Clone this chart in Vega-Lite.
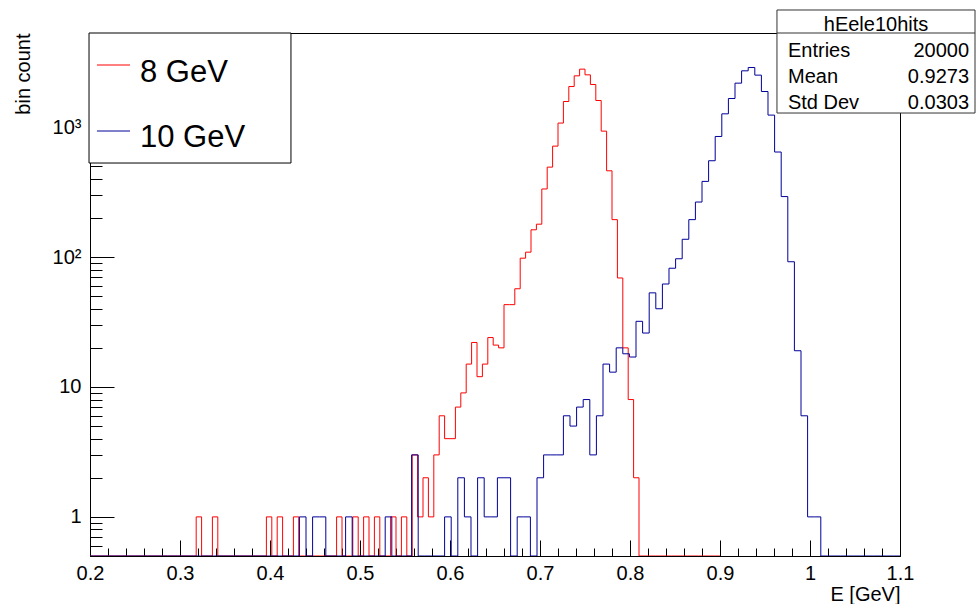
{
  "$schema": "https://vega.github.io/schema/vega-lite/v6.json",
  "width": 810,
  "height": 523,
  "autosize": "none",
  "padding": {"left": 90, "top": 33, "right": 77, "bottom": 48},
  "background": "white",
  "config": {
    "font": "Liberation Sans",
    "view": {"stroke": "black", "strokeWidth": 1},
    "axis": {
      "domainColor": "black", "tickColor": "black", "labelColor": "black", "titleColor": "black",
      "grid": false, "labelFont": "Liberation Sans", "titleFont": "Liberation Sans",
      "labelFontSize": 20, "titleFontSize": 20, "titleFontWeight": "normal", "tickWidth": 1, "domainWidth": 1
    }
  },
  "layer": [
    {
      "data": {"values": [
        {"s":"8 GeV","e":0.198,"n":0},{"s":"8 GeV","e":0.204,"n":0},{"s":"8 GeV","e":0.21,"n":0},{"s":"8 GeV","e":0.216,"n":0},{"s":"8 GeV","e":0.222,"n":0},{"s":"8 GeV","e":0.228,"n":0},{"s":"8 GeV","e":0.234,"n":0},{"s":"8 GeV","e":0.24,"n":0},{"s":"8 GeV","e":0.246,"n":0},{"s":"8 GeV","e":0.252,"n":0},{"s":"8 GeV","e":0.258,"n":0},{"s":"8 GeV","e":0.264,"n":0},{"s":"8 GeV","e":0.27,"n":0},{"s":"8 GeV","e":0.276,"n":0},{"s":"8 GeV","e":0.282,"n":0},{"s":"8 GeV","e":0.288,"n":0},{"s":"8 GeV","e":0.294,"n":0},{"s":"8 GeV","e":0.3,"n":0},{"s":"8 GeV","e":0.306,"n":0},{"s":"8 GeV","e":0.312,"n":0},
        {"s":"8 GeV","e":0.318,"n":1},{"s":"8 GeV","e":0.324,"n":0},{"s":"8 GeV","e":0.33,"n":0},{"s":"8 GeV","e":0.336,"n":1},{"s":"8 GeV","e":0.342,"n":0},{"s":"8 GeV","e":0.348,"n":0},{"s":"8 GeV","e":0.354,"n":0},{"s":"8 GeV","e":0.36,"n":0},{"s":"8 GeV","e":0.366,"n":0},{"s":"8 GeV","e":0.372,"n":0},{"s":"8 GeV","e":0.378,"n":0},{"s":"8 GeV","e":0.384,"n":0},{"s":"8 GeV","e":0.39,"n":0},{"s":"8 GeV","e":0.396,"n":1},{"s":"8 GeV","e":0.402,"n":0},{"s":"8 GeV","e":0.408,"n":1},{"s":"8 GeV","e":0.414,"n":0},{"s":"8 GeV","e":0.42,"n":0},{"s":"8 GeV","e":0.426,"n":1},{"s":"8 GeV","e":0.432,"n":0},
        {"s":"8 GeV","e":0.438,"n":0},{"s":"8 GeV","e":0.444,"n":0},{"s":"8 GeV","e":0.45,"n":0},{"s":"8 GeV","e":0.456,"n":0},{"s":"8 GeV","e":0.462,"n":0},{"s":"8 GeV","e":0.468,"n":0},{"s":"8 GeV","e":0.474,"n":1},{"s":"8 GeV","e":0.48,"n":0},{"s":"8 GeV","e":0.486,"n":0},{"s":"8 GeV","e":0.492,"n":1},{"s":"8 GeV","e":0.498,"n":0},{"s":"8 GeV","e":0.504,"n":1},{"s":"8 GeV","e":0.51,"n":0},{"s":"8 GeV","e":0.516,"n":1},{"s":"8 GeV","e":0.522,"n":0},{"s":"8 GeV","e":0.528,"n":0},{"s":"8 GeV","e":0.534,"n":1},{"s":"8 GeV","e":0.54,"n":0},{"s":"8 GeV","e":0.546,"n":1},{"s":"8 GeV","e":0.552,"n":0},
        {"s":"8 GeV","e":0.558,"n":3},{"s":"8 GeV","e":0.564,"n":1},{"s":"8 GeV","e":0.57,"n":2},{"s":"8 GeV","e":0.576,"n":1},{"s":"8 GeV","e":0.582,"n":3},{"s":"8 GeV","e":0.588,"n":6},{"s":"8 GeV","e":0.594,"n":4},{"s":"8 GeV","e":0.6,"n":4},{"s":"8 GeV","e":0.606,"n":7},{"s":"8 GeV","e":0.612,"n":9},{"s":"8 GeV","e":0.618,"n":15},{"s":"8 GeV","e":0.624,"n":22},{"s":"8 GeV","e":0.63,"n":12},{"s":"8 GeV","e":0.636,"n":15},{"s":"8 GeV","e":0.642,"n":24},{"s":"8 GeV","e":0.648,"n":21},{"s":"8 GeV","e":0.654,"n":20},{"s":"8 GeV","e":0.66,"n":43},{"s":"8 GeV","e":0.666,"n":43},{"s":"8 GeV","e":0.672,"n":57},
        {"s":"8 GeV","e":0.678,"n":98},{"s":"8 GeV","e":0.684,"n":109},{"s":"8 GeV","e":0.69,"n":162},{"s":"8 GeV","e":0.696,"n":179},{"s":"8 GeV","e":0.702,"n":334},{"s":"8 GeV","e":0.708,"n":492},{"s":"8 GeV","e":0.714,"n":714},{"s":"8 GeV","e":0.72,"n":1074},{"s":"8 GeV","e":0.726,"n":1574},{"s":"8 GeV","e":0.732,"n":2052},{"s":"8 GeV","e":0.738,"n":2481},{"s":"8 GeV","e":0.744,"n":2793},{"s":"8 GeV","e":0.75,"n":2525},{"s":"8 GeV","e":0.756,"n":2128},{"s":"8 GeV","e":0.762,"n":1602},{"s":"8 GeV","e":0.768,"n":931},{"s":"8 GeV","e":0.774,"n":461},{"s":"8 GeV","e":0.78,"n":194},{"s":"8 GeV","e":0.786,"n":69},{"s":"8 GeV","e":0.792,"n":20},
        {"s":"8 GeV","e":0.798,"n":8},{"s":"8 GeV","e":0.804,"n":2},{"s":"8 GeV","e":0.81,"n":0},{"s":"8 GeV","e":0.816,"n":0},{"s":"8 GeV","e":0.822,"n":0},{"s":"8 GeV","e":0.828,"n":0},{"s":"8 GeV","e":0.834,"n":0},{"s":"8 GeV","e":0.84,"n":0},{"s":"8 GeV","e":0.846,"n":0},{"s":"8 GeV","e":0.852,"n":0},{"s":"8 GeV","e":0.858,"n":0},{"s":"8 GeV","e":0.864,"n":0},{"s":"8 GeV","e":0.87,"n":0},{"s":"8 GeV","e":0.876,"n":0},{"s":"8 GeV","e":0.882,"n":0},{"s":"8 GeV","e":0.888,"n":0},{"s":"8 GeV","e":0.894,"n":0},{"s":"8 GeV","e":0.9,"n":0},
        {"s":"10 GeV","e":0.198,"n":0},{"s":"10 GeV","e":0.20533,"n":0},{"s":"10 GeV","e":0.21267,"n":0},{"s":"10 GeV","e":0.22,"n":0},{"s":"10 GeV","e":0.22733,"n":0},{"s":"10 GeV","e":0.23467,"n":0},{"s":"10 GeV","e":0.242,"n":0},{"s":"10 GeV","e":0.24933,"n":0},{"s":"10 GeV","e":0.25667,"n":0},{"s":"10 GeV","e":0.264,"n":0},{"s":"10 GeV","e":0.27133,"n":0},{"s":"10 GeV","e":0.27867,"n":0},{"s":"10 GeV","e":0.286,"n":0},{"s":"10 GeV","e":0.29333,"n":0},{"s":"10 GeV","e":0.30067,"n":0},{"s":"10 GeV","e":0.308,"n":0},{"s":"10 GeV","e":0.31533,"n":0},{"s":"10 GeV","e":0.32267,"n":0},{"s":"10 GeV","e":0.33,"n":0},{"s":"10 GeV","e":0.33733,"n":0},
        {"s":"10 GeV","e":0.34467,"n":0},{"s":"10 GeV","e":0.352,"n":0},{"s":"10 GeV","e":0.35933,"n":0},{"s":"10 GeV","e":0.36667,"n":0},{"s":"10 GeV","e":0.374,"n":0},{"s":"10 GeV","e":0.38133,"n":0},{"s":"10 GeV","e":0.38867,"n":0},{"s":"10 GeV","e":0.396,"n":0},{"s":"10 GeV","e":0.40333,"n":0},{"s":"10 GeV","e":0.41067,"n":0},{"s":"10 GeV","e":0.418,"n":0},{"s":"10 GeV","e":0.42533,"n":0},{"s":"10 GeV","e":0.43267,"n":1},{"s":"10 GeV","e":0.44,"n":0},{"s":"10 GeV","e":0.44733,"n":1},{"s":"10 GeV","e":0.45467,"n":1},{"s":"10 GeV","e":0.462,"n":0},{"s":"10 GeV","e":0.46933,"n":0},{"s":"10 GeV","e":0.47667,"n":0},{"s":"10 GeV","e":0.484,"n":1},
        {"s":"10 GeV","e":0.49133,"n":0},{"s":"10 GeV","e":0.49867,"n":0},{"s":"10 GeV","e":0.506,"n":0},{"s":"10 GeV","e":0.51333,"n":0},{"s":"10 GeV","e":0.52067,"n":0},{"s":"10 GeV","e":0.528,"n":1},{"s":"10 GeV","e":0.53533,"n":0},{"s":"10 GeV","e":0.54267,"n":0},{"s":"10 GeV","e":0.55,"n":0},{"s":"10 GeV","e":0.55733,"n":3},{"s":"10 GeV","e":0.56467,"n":0},{"s":"10 GeV","e":0.572,"n":0},{"s":"10 GeV","e":0.57933,"n":0},{"s":"10 GeV","e":0.58667,"n":0},{"s":"10 GeV","e":0.594,"n":1},{"s":"10 GeV","e":0.60133,"n":0},{"s":"10 GeV","e":0.60867,"n":2},{"s":"10 GeV","e":0.616,"n":1},{"s":"10 GeV","e":0.62333,"n":0},{"s":"10 GeV","e":0.63067,"n":2},
        {"s":"10 GeV","e":0.638,"n":1},{"s":"10 GeV","e":0.64533,"n":1},{"s":"10 GeV","e":0.65267,"n":2},{"s":"10 GeV","e":0.66,"n":2},{"s":"10 GeV","e":0.66733,"n":0},{"s":"10 GeV","e":0.67467,"n":1},{"s":"10 GeV","e":0.682,"n":1},{"s":"10 GeV","e":0.68933,"n":0},{"s":"10 GeV","e":0.69667,"n":2},{"s":"10 GeV","e":0.704,"n":3},{"s":"10 GeV","e":0.71133,"n":3},{"s":"10 GeV","e":0.71867,"n":3},{"s":"10 GeV","e":0.726,"n":6},{"s":"10 GeV","e":0.73333,"n":5},{"s":"10 GeV","e":0.74067,"n":7},{"s":"10 GeV","e":0.748,"n":8},{"s":"10 GeV","e":0.75533,"n":3},{"s":"10 GeV","e":0.76267,"n":6},{"s":"10 GeV","e":0.77,"n":15},{"s":"10 GeV","e":0.77733,"n":13},
        {"s":"10 GeV","e":0.78467,"n":20},{"s":"10 GeV","e":0.792,"n":18},{"s":"10 GeV","e":0.79933,"n":17},{"s":"10 GeV","e":0.80667,"n":32},{"s":"10 GeV","e":0.814,"n":26},{"s":"10 GeV","e":0.82133,"n":53},{"s":"10 GeV","e":0.82867,"n":40},{"s":"10 GeV","e":0.836,"n":62},{"s":"10 GeV","e":0.84333,"n":82},{"s":"10 GeV","e":0.85067,"n":97},{"s":"10 GeV","e":0.858,"n":137},{"s":"10 GeV","e":0.86533,"n":194},{"s":"10 GeV","e":0.87267,"n":265},{"s":"10 GeV","e":0.88,"n":382},{"s":"10 GeV","e":0.88733,"n":551},{"s":"10 GeV","e":0.89467,"n":847},{"s":"10 GeV","e":0.902,"n":1265},{"s":"10 GeV","e":0.90933,"n":1660},{"s":"10 GeV","e":0.91667,"n":2179},{"s":"10 GeV","e":0.924,"n":2711},
        {"s":"10 GeV","e":0.93133,"n":2876},{"s":"10 GeV","e":0.93867,"n":2512},{"s":"10 GeV","e":0.946,"n":1879},{"s":"10 GeV","e":0.95333,"n":1237},{"s":"10 GeV","e":0.96067,"n":643},{"s":"10 GeV","e":0.968,"n":292},{"s":"10 GeV","e":0.97533,"n":92},{"s":"10 GeV","e":0.98267,"n":19},{"s":"10 GeV","e":0.99,"n":6},{"s":"10 GeV","e":0.99733,"n":1},{"s":"10 GeV","e":1.00467,"n":1},{"s":"10 GeV","e":1.012,"n":0},{"s":"10 GeV","e":1.01933,"n":0},{"s":"10 GeV","e":1.02667,"n":0},{"s":"10 GeV","e":1.034,"n":0},{"s":"10 GeV","e":1.04133,"n":0},{"s":"10 GeV","e":1.04867,"n":0},{"s":"10 GeV","e":1.056,"n":0},{"s":"10 GeV","e":1.06333,"n":0},{"s":"10 GeV","e":1.07067,"n":0},
        {"s":"10 GeV","e":1.078,"n":0},{"s":"10 GeV","e":1.08533,"n":0},{"s":"10 GeV","e":1.09267,"n":0},{"s":"10 GeV","e":1.1,"n":0}
      ]},
      "mark": {"type": "line", "interpolate": "step-after", "strokeWidth": 1, "clip": true},
      "encoding": {
        "x": {
          "field": "e", "type": "quantitative",
          "scale": {"domain": [0.2, 1.1], "nice": false, "zero": false},
          "axis": {
            "values": [0.2,0.22,0.24,0.26,0.28,0.3,0.32,0.34,0.36,0.38,0.4,0.42,0.44,0.46,0.48,0.5,0.52,0.54,0.56,0.58,0.6,0.62,0.64,0.66,0.68,0.7,0.72,0.74,0.76,0.78,0.8,0.82,0.84,0.86,0.88,0.9,0.92,0.94,0.96,0.98,1,1.02,1.04,1.06,1.08,1.1],
            "tickSize": {"condition": {"test": "abs(datum.value*10-round(datum.value*10))<0.001", "value": -16}, "value": -8},
            "labelExpr": "abs(datum.value*10-round(datum.value*10))<0.001 ? format(datum.value,'~g') : ''",
            "labelPadding": 23, "labelOverlap": false, "labelFlush": false, "labelAlign": "center", "labelBaseline": "top",
            "title": "E [GeV]", "titleAnchor": "end", "titleAlign": "right", "titleBaseline": "alphabetic", "titleX": 810, "titleY": 44
          }
        },
        "y": {
          "field": "n", "type": "quantitative",
          "scale": {"type": "log", "domain": [0.5, 5300], "clamp": true, "nice": false},
          "axis": {
            "values": [0.6,0.7,0.8,0.9,1,2,3,4,5,6,7,8,9,10,20,30,40,50,60,70,80,90,100,200,300,400,500,600,700,800,900,1000,2000,3000,4000,5000],
            "tickSize": {"condition": {"test": "datum.value==1||datum.value==10||datum.value==100||datum.value==1000", "value": -24}, "value": -12},
            "labelExpr": "datum.value==1?'1':datum.value==10?'10':datum.value==100?'10²':datum.value==1000?'10³':''",
            "labelPadding": 33, "labelOverlap": false, "labelFlush": false, "labelBaseline": "middle",
            "title": "bin count", "titleAngle": 270, "titleAnchor": "end", "titleAlign": "right", "titleBaseline": "middle", "titleX": -67, "titleY": 0
          }
        },
        "color": {
          "field": "s", "type": "nominal",
          "scale": {"domain": ["8 GeV", "10 GeV"], "range": ["#ff0000", "#000099"]},
          "legend": null
        }
      }
    },
    {
      "data": {"values": [{}]},
      "layer": [
        {
          "mark": {"type": "rect", "fill": "white", "stroke": "black", "strokeWidth": 1},
          "encoding": {
            "x": {"datum": -0.0012, "type": "quantitative", "scale": {"domain": [0, 1], "nice": false, "zero": false}, "axis": null},
            "x2": {"datum": 0.2481},
            "y": {"datum": 1.0, "type": "quantitative", "scale": {"domain": [0, 1], "nice": false, "zero": false}, "axis": null},
            "y2": {"datum": 0.7514}
          }
        },
        {
          "mark": {"type": "rule", "stroke": "#ff0000", "strokeWidth": 1},
          "encoding": {
            "x": {"datum": 0.0086, "type": "quantitative", "axis": null},
            "x2": {"datum": 0.0494},
            "y": {"datum": 0.9388, "type": "quantitative", "axis": null}
          }
        },
        {
          "mark": {"type": "rule", "stroke": "#000099", "strokeWidth": 1},
          "encoding": {
            "x": {"datum": 0.0086, "type": "quantitative", "axis": null},
            "x2": {"datum": 0.0494},
            "y": {"datum": 0.8126, "type": "quantitative", "axis": null}
          }
        },
        {
          "mark": {"type": "text", "align": "left", "baseline": "alphabetic", "fontSize": 31, "font": "Liberation Sans", "color": "black"},
          "encoding": {
            "x": {"datum": 0.0617, "type": "quantitative", "axis": null},
            "y": {"datum": 0.9063, "type": "quantitative", "axis": null},
            "text": {"value": "8 GeV"}
          }
        },
        {
          "mark": {"type": "text", "align": "left", "baseline": "alphabetic", "fontSize": 31, "font": "Liberation Sans", "color": "black"},
          "encoding": {
            "x": {"datum": 0.0617, "type": "quantitative", "axis": null},
            "y": {"datum": 0.782, "type": "quantitative", "axis": null},
            "text": {"value": "10 GeV"}
          }
        },
        {
          "mark": {"type": "rect", "fill": "white", "stroke": "#333333", "strokeWidth": 1},
          "encoding": {
            "x": {"datum": 0.8481, "type": "quantitative", "axis": null},
            "x2": {"datum": 1.0926},
            "y": {"datum": 1.044, "type": "quantitative", "axis": null},
            "y2": {"datum": 0.847}
          }
        },
        {
          "mark": {"type": "rule", "stroke": "#333333", "strokeWidth": 1},
          "encoding": {
            "x": {"datum": 0.8481, "type": "quantitative", "axis": null},
            "x2": {"datum": 1.0926},
            "y": {"datum": 1.0, "type": "quantitative", "axis": null}
          }
        },
        {
          "mark": {"type": "text", "align": "center", "baseline": "alphabetic", "fontSize": 20, "font": "Liberation Sans", "color": "black"},
          "encoding": {
            "x": {"datum": 0.9704, "type": "quantitative", "axis": null},
            "y": {"datum": 1.0038, "type": "quantitative", "axis": null},
            "text": {"value": "hEele10hits"}
          }
        },
        {
          "mark": {"type": "text", "align": "left", "baseline": "alphabetic", "fontSize": 20, "font": "Liberation Sans", "color": "black"},
          "encoding": {
            "x": {"datum": 0.8617, "type": "quantitative", "axis": null},
            "y": {"datum": 0.9541, "type": "quantitative", "axis": null},
            "text": {"value": "Entries"}
          }
        },
        {
          "mark": {"type": "text", "align": "left", "baseline": "alphabetic", "fontSize": 20, "font": "Liberation Sans", "color": "black"},
          "encoding": {
            "x": {"datum": 0.8617, "type": "quantitative", "axis": null},
            "y": {"datum": 0.9044, "type": "quantitative", "axis": null},
            "text": {"value": "Mean"}
          }
        },
        {
          "mark": {"type": "text", "align": "left", "baseline": "alphabetic", "fontSize": 20, "font": "Liberation Sans", "color": "black"},
          "encoding": {
            "x": {"datum": 0.8617, "type": "quantitative", "axis": null},
            "y": {"datum": 0.8547, "type": "quantitative", "axis": null},
            "text": {"value": "Std Dev"}
          }
        },
        {
          "mark": {"type": "text", "align": "right", "baseline": "alphabetic", "fontSize": 20, "font": "Liberation Sans", "color": "black"},
          "encoding": {
            "x": {"datum": 1.0852, "type": "quantitative", "axis": null},
            "y": {"datum": 0.9541, "type": "quantitative", "axis": null},
            "text": {"value": "20000"}
          }
        },
        {
          "mark": {"type": "text", "align": "right", "baseline": "alphabetic", "fontSize": 20, "font": "Liberation Sans", "color": "black"},
          "encoding": {
            "x": {"datum": 1.0852, "type": "quantitative", "axis": null},
            "y": {"datum": 0.9044, "type": "quantitative", "axis": null},
            "text": {"value": "0.9273"}
          }
        },
        {
          "mark": {"type": "text", "align": "right", "baseline": "alphabetic", "fontSize": 20, "font": "Liberation Sans", "color": "black"},
          "encoding": {
            "x": {"datum": 1.0852, "type": "quantitative", "axis": null},
            "y": {"datum": 0.8547, "type": "quantitative", "axis": null},
            "text": {"value": "0.0303"}
          }
        }
      ]
    }
  ],
  "resolve": {"scale": {"x": "independent", "y": "independent"}}
}
